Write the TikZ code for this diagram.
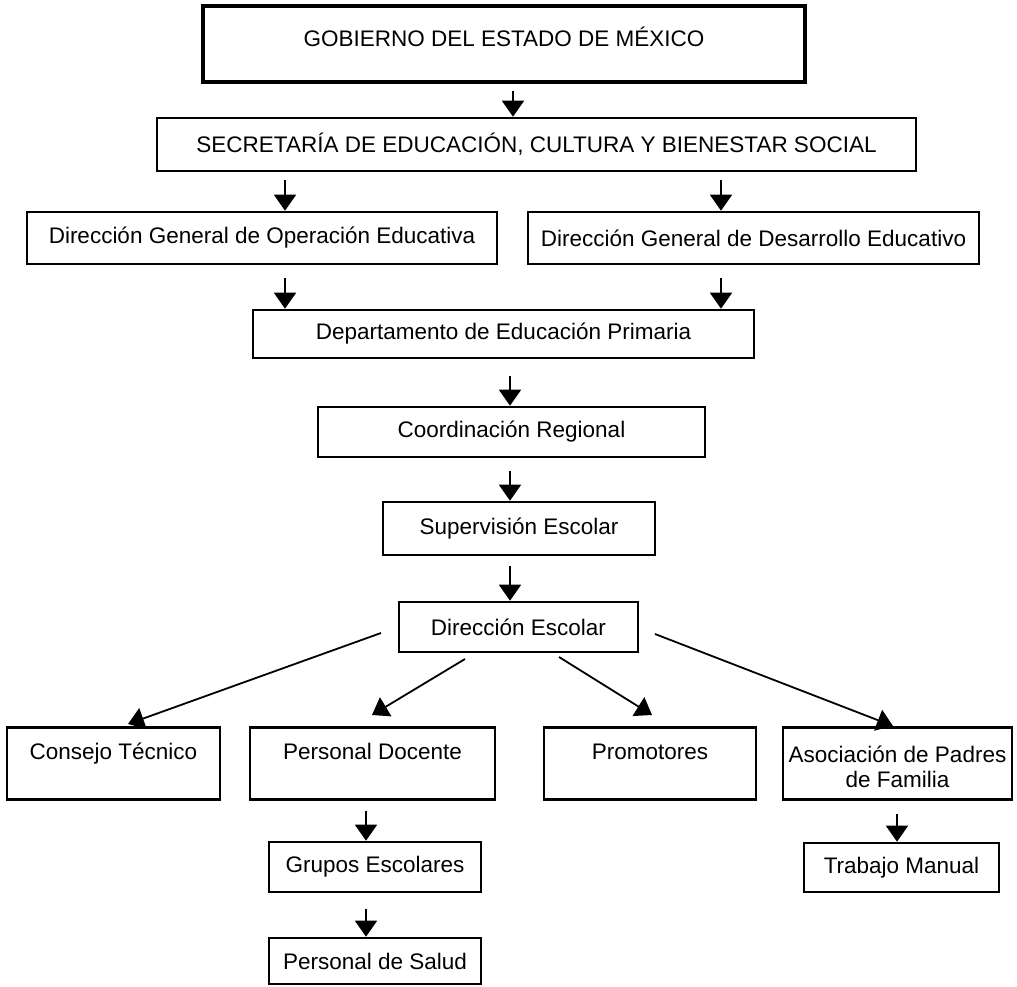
\documentclass[tikz,border=0pt]{standalone}
\usepackage{fontspec}
\setmainfont{Liberation Sans}
\usetikzlibrary{arrows.meta,calc}
\begin{document}
\begin{tikzpicture}[x=1pt,y=-1pt,
  box/.style={draw, line width=2.6pt, inner sep=0pt, font=\fontsize{22.5}{25}\selectfont, align=center},
  topbox/.style={draw, line width=2.6pt, inner sep=0pt, font=\fontsize{22.5}{25}\selectfont, text height=32pt, text depth=40pt},
  arr/.style={line width=1.8pt, -{Triangle[width=22pt,length=16pt]}},
]
\useasboundingbox (0,0) rectangle (1017,987);
% boxes
\node[box, line width=4.5pt, minimum width=602pt, text height=41pt, text depth=35pt] (gob) at (504,44) {GOBIERNO DEL ESTADO DE MÉXICO};
\node[box, minimum width=759pt, minimum height=53pt] (sec) at (536.5,144.5) {SECRETARÍA DE EDUCACIÓN, CULTURA Y BIENESTAR SOCIAL};
\node[box, minimum width=470pt, minimum height=52pt] (dgo) at (262,238) {Dirección General de Operación Educativa};
\node[box, minimum width=451pt, minimum height=52pt] (dgd) at (753.5,238) {Dirección General de Desarrollo Educativo};
\node[box, minimum width=501pt, minimum height=48pt] (dep) at (503.5,334) {Departamento de Educación Primaria};
\node[box, minimum width=387pt, minimum height=50pt] (coo) at (511.5,432) {Coordinación Regional};
\node[box, minimum width=272pt, minimum height=53pt] (sup) at (519,528.5) {Supervisión Escolar};
\node[box, minimum width=239pt, minimum height=50pt] (dir) at (518.5,627) {Dirección Escolar};
\node[topbox, minimum width=213pt] (ct) at (113.5,763.5) {Consejo Técnico};
\node[topbox, minimum width=245pt] (pd) at (372.5,763.5) {Personal Docente};
\node[topbox, minimum width=212pt] (pro) at (650,763.5) {Promotores};
\node[topbox, minimum width=229pt, text height=34.5pt, text depth=37.5pt] (aso) at (897.5,763.5) {\begin{tabular}[t]{@{}c@{}}Asociación de Padres\\de Familia\end{tabular}};
\node[box, minimum width=212pt, minimum height=50pt] (gru) at (375,867) {Grupos Escolares};
\node[box, minimum width=212pt, minimum height=46pt] (sal) at (375,961) {Personal de Salud};
\node[box, minimum width=195pt, minimum height=49pt] (tra) at (901.5,867.5) {Trabajo Manual};
% arrow columns
\coordinate (xt) at (513,0);
\coordinate (xl) at (285,0);
\coordinate (xr) at (721,0);
\coordinate (xc) at (510,0);
\coordinate (xg) at (366,0);
\coordinate (xa) at (897,0);
% vertical arrows
\draw[arr] ($(gob.south -| xt)+(0,7)$) -- (sec.north -| xt);
\draw[arr] ($(sec.south -| xl)+(0,8)$) -- (dgo.north -| xl);
\draw[arr] ($(sec.south -| xr)+(0,8)$) -- (dgd.north -| xr);
\draw[arr] ($(dgo.south -| xl)+(0,13)$) -- (dep.north -| xl);
\draw[arr] ($(dgd.south -| xr)+(0,13)$) -- (dep.north -| xr);
\draw[arr] ($(dep.south -| xc)+(0,17)$) -- (coo.north -| xc);
\draw[arr] ($(coo.south -| xc)+(0,13)$) -- (sup.north -| xc);
\draw[arr] ($(sup.south -| xc)+(0,10)$) -- (dir.north -| xc);
\draw[arr] ($(pd.south -| xg)+(0,10)$) -- (gru.north -| xg);
\draw[arr] ($(gru.south -| xg)+(0,16)$) -- (sal.north -| xg);
\draw[arr] ($(aso.south -| xa)+(0,13)$) -- (tra.north -| xa);
% diagonal arrows from Direccion Escolar
\coordinate (c1s) at (381,633); \coordinate (c1e) at (128,724);
\coordinate (c2s) at (465,659); \coordinate (c2e) at (372,715);
\coordinate (c3s) at (559,657); \coordinate (c3e) at (652,715);
\coordinate (c4s) at (655,634); \coordinate (c4e) at (893,726);
\draw[arr] (c1s) -- (c1e);
\draw[arr] (c2s) -- (c2e);
\draw[arr] (c3s) -- (c3e);
\draw[arr] (c4s) -- (c4e);
\end{tikzpicture}
\end{document}
